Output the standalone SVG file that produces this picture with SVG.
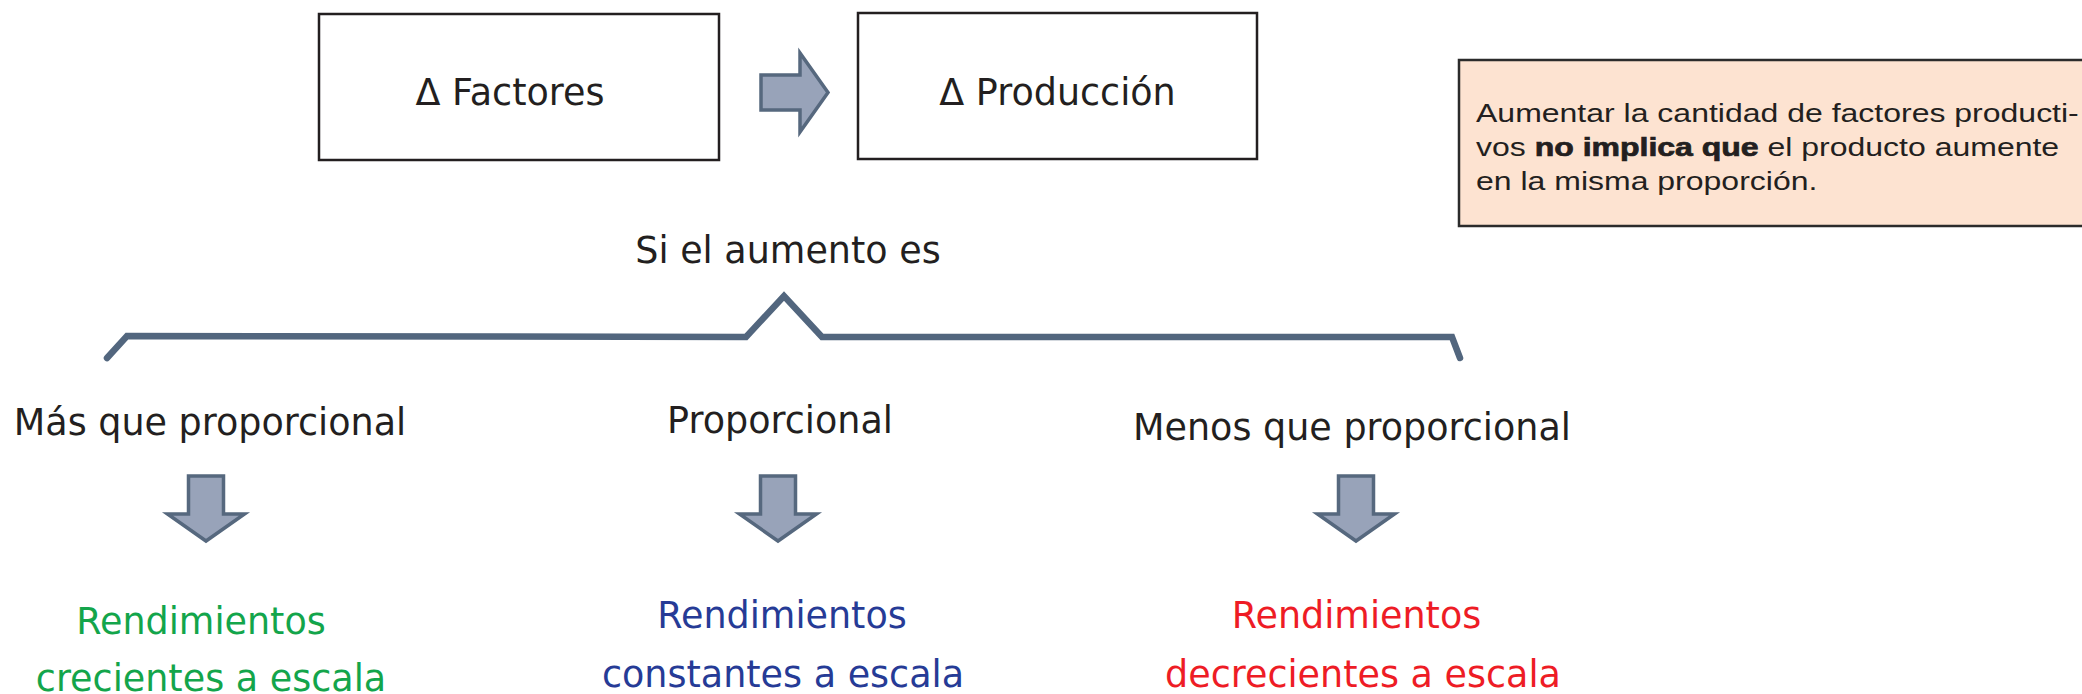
<svg xmlns="http://www.w3.org/2000/svg" width="2082" height="694" viewBox="0 0 2082 694">
<style>
.box{fill:#fff;stroke:#231f20;stroke-width:2.5}
.t{font-family:"DejaVu Sans",Verdana,sans-serif;font-size:36.5px;fill:#231f20;text-anchor:middle}
.arr{fill:#98a3b9;stroke:#56687e;stroke-width:3.5;stroke-linejoin:miter}
.note{font-family:"Liberation Sans",Arial,sans-serif;font-size:25px;fill:#231f20}
.green{fill:#13a54b}.blue{fill:#263b96}.red{fill:#ee1c25}
</style>
<defs>
<path id="down" class="arr" d="M-17.5,0 L17.5,0 L17.5,38 L38.5,38 L0,65 L-38.5,38 L-17.5,38 Z"/>
</defs>
<rect width="2082" height="694" fill="#fff"/>
<g id="factores">
<rect class="box" x="319" y="14" width="400" height="146"/>
<text class="t" x="510" y="105">Δ Factores</text>
</g>
<g id="produccion">
<rect class="box" x="858" y="13" width="399" height="146"/>
<text class="t" x="1057.5" y="105">Δ Producción</text>
</g>
<g id="nota">
<rect x="1459" y="60" width="640" height="166" fill="#fde3d1" stroke="#2b2b2b" stroke-width="2.5"/>
<text class="note" transform="translate(1476,122) scale(1.28,1)">Aumentar la cantidad de factores producti-</text>
<text class="note" transform="translate(1476,156) scale(1.28,1)">vos <tspan font-weight="bold" stroke="#231f20" stroke-width="0.7">no implica que</tspan> el producto aumente</text>
<text class="note" transform="translate(1476,189.5) scale(1.28,1)">en la misma proporción.</text>
</g>
<g id="si-aumento">
<text class="t" x="788" y="263">Si el aumento es</text>
</g>
<g id="connectors">
<path class="arr" d="M761,75 L800,75 L800,53 L828,92.5 L800,132 L800,110 L761,110 Z"/>
<path d="M107,358 L127,336 L746,337 L784,296 L822,337 L1452,337 L1460,358" fill="none" stroke="#52667e" stroke-width="6.5" stroke-linecap="round" stroke-linejoin="miter"/>
<use href="#down" x="206" y="476"/>
<use href="#down" x="778" y="476"/>
<use href="#down" x="1356" y="476"/>
</g>
<g id="mas">
<text class="t" x="210" y="435">Más que proporcional</text>
</g>
<g id="proporcional">
<text class="t" x="780" y="433">Proporcional</text>
</g>
<g id="menos">
<text class="t" x="1352" y="440">Menos que proporcional</text>
</g>
<g id="crecientes">
<text class="t green" x="201" y="634">Rendimientos</text>
<text class="t green" x="211" y="691">crecientes a escala</text>
</g>
<g id="constantes">
<text class="t blue" x="782" y="628">Rendimientos</text>
<text class="t blue" x="783" y="687">constantes a escala</text>
</g>
<g id="decrecientes">
<text class="t red" x="1356.5" y="628">Rendimientos</text>
<text class="t red" x="1363" y="687">decrecientes a escala</text>
</g>
</svg>
